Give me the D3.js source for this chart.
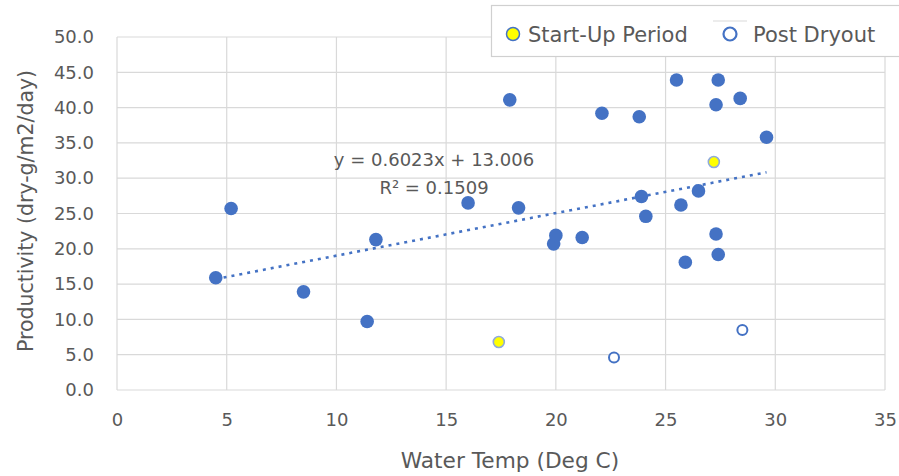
<!DOCTYPE html>
<html>
<head>
<meta charset="utf-8">
<script src="https://cdn.jsdelivr.net/npm/d3@7"></script>
<style>
    body { margin: 0; background: #fff; }
    text { font-family: "DejaVu Sans", sans-serif; fill: #595959; }
</style>
</head>
<body>
<div id="vis"></div>
<script>
'use strict';

// Main series (blue dots)
const tempMain = [4.5, 5.2, 8.5, 11.4, 11.8, 16.0, 17.9, 18.3, 19.9, 20.0, 21.2, 22.1, 23.8,
    23.9, 24.1, 25.5, 25.7, 25.9, 26.5, 27.3, 27.3, 27.4, 27.4, 28.4, 29.6];
const prodMain = [15.9, 25.7, 13.9, 9.7, 21.3, 26.5, 41.1, 25.8, 20.7, 21.9, 21.6, 39.2, 38.7,
    27.4, 24.6, 43.9, 26.2, 18.1, 28.2, 40.4, 22.1, 43.9, 19.2, 41.3, 35.8];

// Start-Up Period (yellow)
const tempStartUp = [27.2, 17.4];
const prodStartUp = [32.3, 6.8];

// Post Dryout (open circles)
const tempDryout = [22.65, 28.5];
const prodDryout = [4.6, 8.5];

const xTicks = [0, 5, 10, 15, 20, 25, 30, 35];
const yTicks = [0, 5, 10, 15, 20, 25, 30, 35, 40, 45, 50];

// trendline fitted on main series
const trend = { slope: 0.6023, intercept: 13.006, r2: 0.1509 };

const legendItems = ["Start-Up Period", "Post Dryout"];

const width = 899, height = 476;
const plot = { left: 117, right: 885, top: 37, bottom: 390 };
const blue = "#4472C4";

const svg = d3.select("#vis").append("svg")
    .attr("width", width)
    .attr("height", height);

const x = d3.scaleLinear().domain([0, 35]).range([plot.left, plot.right]);
const y = d3.scaleLinear().domain([0, 50]).range([plot.bottom, plot.top]);

// Gridlines
svg.append("g")
    .selectAll("line")
    .data(yTicks)
    .enter()
    .append("line")
        .attr("x1", plot.left)
        .attr("x2", plot.right)
        .attr("y1", (d) => y(d))
        .attr("y2", (d) => y(d))
        .attr("stroke", "#d9d9d9")
        .attr("stroke-width", 1.2);
svg.append("g")
    .selectAll("line")
    .data(xTicks)
    .enter()
    .append("line")
        .attr("x1", (d) => x(d))
        .attr("x2", (d) => x(d))
        .attr("y1", plot.top)
        .attr("y2", plot.bottom)
        .attr("stroke", "#d9d9d9")
        .attr("stroke-width", 1.2);

// Axes (labels only, lines drawn as gridlines)
const xAxis = svg.append("g")
    .attr("transform", "translate(0," + plot.bottom + ")")
    .call(d3.axisBottom(x).tickValues(xTicks).tickSize(0).tickPadding(23));
const yAxis = svg.append("g")
    .attr("transform", "translate(" + plot.left + ",0)")
    .call(d3.axisLeft(y).tickValues(yTicks).tickFormat(d3.format(".1f")).tickSize(0).tickPadding(23));
[xAxis, yAxis].forEach((a) => {
    a.select(".domain").remove();
    a.selectAll("text")
        .style("font-family", "'DejaVu Sans', sans-serif")
        .style("font-size", "18px")
        .attr("fill", "#595959");
});

// Trendline
const trendX = [d3.min(tempMain), d3.max(tempMain)];
svg.append("line")
    .attr("x1", x(trendX[0]))
    .attr("y1", y(trend.slope * trendX[0] + trend.intercept))
    .attr("x2", x(trendX[1]))
    .attr("y2", y(trend.slope * trendX[1] + trend.intercept))
    .attr("stroke", blue)
    .attr("stroke-width", 2.6)
    .attr("stroke-dasharray", "3,5");

// Main points
svg.append("g")
    .selectAll("circle")
    .data(tempMain)
    .enter()
    .append("circle")
        .attr("cx", (d) => x(d))
        .attr("cy", (d, i) => y(prodMain[i]))
        .attr("r", 6.8)
        .attr("fill", blue);

svg.append("g")
    .selectAll("circle")
    .data(tempStartUp)
    .enter()
    .append("circle")
        .attr("cx", (d) => x(d))
        .attr("cy", (d, i) => y(prodStartUp[i]))
        .attr("r", 5.5)
        .attr("fill", "#FFFF00")
        .attr("stroke", "#8FAADC")
        .attr("stroke-width", 1.6);

svg.append("g")
    .selectAll("circle")
    .data(tempDryout)
    .enter()
    .append("circle")
        .attr("cx", (d) => x(d))
        .attr("cy", (d, i) => y(prodDryout[i]))
        .attr("r", 5)
        .attr("fill", "#fff")
        .attr("stroke", blue)
        .attr("stroke-width", 2);

// Equation label
const eq = svg.append("text")
    .attr("text-anchor", "middle")
    .style("font-size", "18px")
    .attr("fill", "#595959");
eq.append("tspan")
    .attr("x", 434).attr("y", 166)
    .text("y = " + trend.slope + "x + " + trend.intercept.toFixed(3));
eq.append("tspan")
    .attr("x", 434).attr("y", 194)
    .text("R² = " + trend.r2);

// Axis titles
svg.append("text")
    .attr("x", 510)
    .attr("y", 468)
    .attr("text-anchor", "middle")
    .style("font-size", "21.7px")
    .text("Water Temp (Deg C)");
svg.append("text")
    .attr("transform", "translate(33,211)rotate(-90)")
    .attr("text-anchor", "middle")
    .style("font-size", "20.5px")
    .text("Productivity (dry-g/m2/day)");

// Legend
const legend = svg.append("g");
legend.append("rect")
    .attr("x", 491.5)
    .attr("y", 5.5)
    .attr("width", 420)
    .attr("height", 51)
    .attr("fill", "#fff")
    .attr("stroke", "#d0d0d0")
    .attr("stroke-width", 1.2);
legend.append("line")
    .attr("x1", 713).attr("x2", 747)
    .attr("y1", 21).attr("y2", 21)
    .attr("stroke", "#d9d9d9")
    .attr("stroke-width", 1);
legend.append("circle")
    .attr("cx", 513).attr("cy", 34).attr("r", 6.5)
    .attr("fill", "#FFFF00")
    .attr("stroke", blue)
    .attr("stroke-width", 1.5);
legend.append("circle")
    .attr("cx", 730).attr("cy", 34).attr("r", 6.5)
    .attr("fill", "#fff")
    .attr("stroke", blue)
    .attr("stroke-width", 2.2);
legend.selectAll("text.item")
    .data(legendItems)
    .enter()
    .append("text")
        .attr("class", "item")
        .attr("x", (d, i) => i === 0 ? 528 : 753)
        .attr("y", 42)
        .style("font-size", "21px")
        .text((d) => d);
</script>
</body>
</html>
